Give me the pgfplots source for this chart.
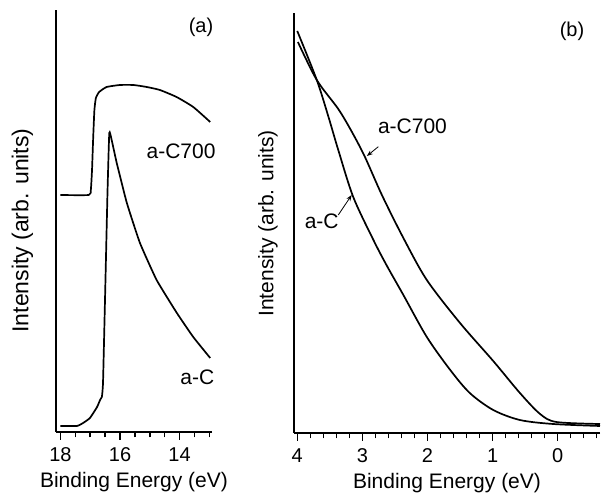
\documentclass[border=0pt]{standalone}
\usepackage{pgfplots}
\pgfplotsset{compat=1.18}
\usepackage{fontspec}
\setmainfont{Liberation Sans}
\usetikzlibrary{arrows.meta}

% shared look of both panels
\pgfplotsset{
  spec/.style={
    scale only axis,
    axis x line*=bottom, axis y line*=left,
    axis line style={line width=2pt, -},
    x dir=reverse,
    ytick=\empty,
    tick align=outside,
    major tick length=5.5pt,
    tick style={line width=1.5pt, black},
    tick label style={font=\fontsize{20}{24}\selectfont},
    xticklabel style={yshift=-7pt},
    label style={font=\fontsize{21}{25}\selectfont},
    xlabel={Binding Energy (eV)},
    ylabel={Intensity (arb. units)},
    xlabel style={at={(axis description cs:0.5,0)}, anchor=center, yshift=-50pt},
    clip=false,
  },
  curve/.style={black, line width=1.7pt, mark=none, smooth},
}

\begin{document}
\begin{tikzpicture}
\useasboundingbox (0,0) rectangle (602pt,500pt);

% ---- panel (a)
\begin{axis}[spec, at={(56pt,68pt)}, anchor=south west,
  width=156pt, height=422pt,
  xmin=12.91, xmax=18.15, ymin=0, ymax=422,
  xtick={13,13.5,14,14.5,15,15.5,16,16.5,17,17.5,18},
  xticklabels={,,14,,,,16,,,,18},
  ylabel style={at={(axis description cs:-0.215,0.4775)}, anchor=center,
    font=\fontsize{23}{27}\selectfont},
]
% a-C700
\addplot[curve, tension=0.3] coordinates {
(18.0,237) (17.05,237) (16.98,242) (16.94,262) (16.90,295) (16.86,322)
(16.81,334) (16.70,340) (16.45,345) (16.0,347) (15.55,347) (15.10,345)
(14.66,342) (14.10,335) (13.54,325) (12.97,310)
};
% a-C
\addplot[curve, tension=0.25] coordinates {
(18.0,6) (17.45,6) (17.24,9) (17.01,14) (16.77,25) (16.67,32) (16.61,35)
(16.57,50) (16.49,150) (16.42,240) (16.36,299) (16.28,292) (16.11,269)
(15.77,229) (15.33,189) (14.77,152) (14.09,119) (13.54,95) (12.97,74)
};
% tick marks below the axis line
\pgfplotsinvokeforeach{14,16,18}{\draw[line width=1.5pt, black] (axis cs:#1,0) -- ++(0pt,-8.5pt);}
\pgfplotsinvokeforeach{13,13.5,14.5,15,15.5,16.5,17,17.5}{\draw[line width=1.5pt, black] (axis cs:#1,0) -- ++(0pt,-5.5pt);}
\node[font=\fontsize{20}{24}\selectfont] at (axis cs:13.28,405) {(a)};
\node[font=\fontsize{21}{25}\selectfont] at (axis cs:13.95,281) {a-C700};
\node[font=\fontsize{21}{25}\selectfont] at (axis cs:13.40,55) {a-C};
\end{axis}

% ---- panel (b)
\begin{axis}[spec, at={(294pt,67pt)}, anchor=south west,
  width=306pt, height=420pt,
  xmin=-0.65, xmax=4.05, ymin=0, ymax=420,
  xtick={-0.6,-0.4,-0.2,0,0.2,0.4,0.6,0.8,1,1.2,1.4,1.6,1.8,2,2.2,2.4,2.6,2.8,3,3.2,3.4,3.6,3.8,4},
  xticklabels={,,,0,,,,,1,,,,,2,,,,,3,,,,,4},
  ylabel style={at={(axis description cs:-0.085,0.499)}, anchor=center},
]
% a-C
\addplot[curve, tension=0.5] coordinates {
(4.00,402) (3.70,353) (3.52,316) (3.37,283) (3.14,236) (2.83,193)
(2.63,168) (2.37,138) (2.01,96) (1.65,63) (1.35,40) (0.99,23)
(0.58,13) (0.07,9) (-0.65,7)
};
% a-C700
\addplot[curve, tension=0.5] coordinates {
(3.99,391) (3.70,353) (3.37,324) (3.16,301) (2.96,276) (2.70,238)
(2.37,195) (2.01,153) (1.50,110) (0.99,72) (0.58,40)
(0.27,19) (0.02,11) (-0.65,9)
};
% tick marks below the axis line
\pgfplotsinvokeforeach{0,1,2,3,4}{\draw[line width=1.5pt, black] (axis cs:#1,0) -- ++(0pt,-8.5pt);}
\pgfplotsinvokeforeach{-0.6,-0.4,-0.2,0.2,0.4,0.6,0.8,1.2,1.4,1.6,1.8,2.2,2.4,2.6,2.8,3.2,3.4,3.6,3.8}{\draw[line width=1.5pt, black] (axis cs:#1,0) -- ++(0pt,-5.5pt);}
\node[font=\fontsize{20}{24}\selectfont] at (axis cs:-0.22,402) {(b)};
\node[font=\fontsize{21}{25}\selectfont] at (axis cs:2.23,307) {a-C700};
\node[font=\fontsize{21}{25}\selectfont] at (axis cs:3.625,211.5) {a-C};
\draw[line width=0.8pt, -{Stealth[length=6pt,width=4.5pt]}]
  (axis cs:2.755,286.3) -- (axis cs:2.93,277);
\draw[line width=0.8pt, -{Stealth[length=6pt,width=4.5pt]}]
  (axis cs:3.37,218) -- (axis cs:3.164,238);
\end{axis}
\end{tikzpicture}
\end{document}
